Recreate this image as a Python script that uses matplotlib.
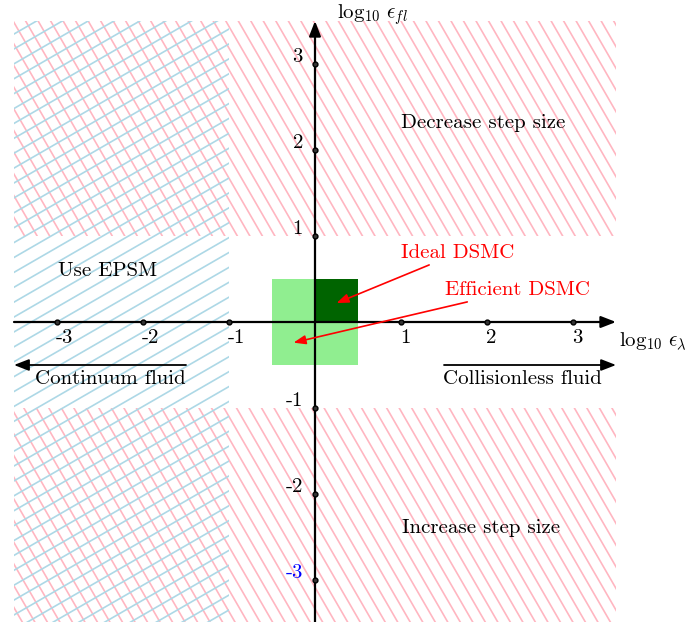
import numpy as np
import matplotlib
matplotlib.use("Agg")
import matplotlib.pyplot as plt
from matplotlib.patches import Rectangle

plt.rcParams['font.family'] = 'serif'
plt.rcParams['font.serif'] = ['cmr10']
plt.rcParams['mathtext.fontset'] = 'cm'
plt.rcParams['axes.unicode_minus'] = False

# data (log10 units)
x_ticks = [-3, -2, -1, 1, 2, 3]
y_ticks = [-3, -2, -1, 1, 2, 3]
lim = 3.5
# hatched regions: (x0, x1, y0, y1)
pink_regions = [(-3.5, 3.5, 1, 3.5), (-3.5, 3.5, -3.5, -1)]
blue_regions = [(-3.5, -1, -3.5, 3.5)]
efficient_box = (-0.5, 0.5, -0.5, 0.5)
ideal_box = (0, 0.5, 0, 0.5)

scale = 86  # px per unit
fig = plt.figure(figsize=(7, 6.22), dpi=100)
ax = fig.add_axes([0, 0, 1, 1])
ax.set_xlim(-315 / scale, 385 / scale)
ax.set_ylim(-300 / scale, 322 / scale)
ax.axis('off')


def hatch(x0, x1, y0, y1, angle, spacing, color):
    clip = Rectangle((x0, y0), x1 - x0, y1 - y0, fc='none', ec='none')
    ax.add_patch(clip)
    a = np.deg2rad(angle)
    d = np.array([np.cos(a), np.sin(a)])
    n = np.array([-np.sin(a), np.cos(a)])
    R = 12
    for k in np.arange(-R, R, spacing):
        p0 = n * k - d * R
        p1 = n * k + d * R
        ln, = ax.plot([p0[0], p1[0]], [p0[1], p1[1]], color=color, lw=1.2, zorder=1)
        ln.set_clip_path(clip)


for r in pink_regions:
    hatch(*r, angle=-60, spacing=0.126, color='#ffb6c1')
for r in blue_regions:
    hatch(*r, angle=30, spacing=0.15, color='#add8e6')

# green boxes
x0, x1, y0, y1 = efficient_box
ax.add_patch(Rectangle((x0, y0), x1 - x0, y1 - y0, fc='#90ee90', ec='none', zorder=2))
x0, x1, y0, y1 = ideal_box
ax.add_patch(Rectangle((x0, y0), x1 - x0, y1 - y0, fc='#006400', ec='none', zorder=2))

# axes with arrows
ax_kw = dict(arrowstyle='-|>,head_length=0.9,head_width=0.35', color='black', lw=1.6,
             shrinkA=0, shrinkB=0, mutation_scale=10)
ax.annotate('', xy=(lim, 0), xytext=(-lim, 0), arrowprops=ax_kw, zorder=4)
ax.annotate('', xy=(0, lim), xytext=(0, -lim), arrowprops=ax_kw, zorder=4)

ax.plot(x_ticks, [0] * len(x_ticks), 'o', ms=3.5, mfc='#333333', mec='black', zorder=5)
ax.plot([0] * len(y_ticks), y_ticks, 'o', ms=3.5, mfc='#333333', mec='black', zorder=5)

fs = 15
for t in x_ticks:
    ax.text(t - 0.01, -0.08, str(t), ha='left', va='top', fontsize=fs, zorder=6)
for t in y_ticks:
    ax.text(-0.14, t - 0.02, str(t), ha='right', va='bottom', fontsize=fs,
            color='blue' if t == -3 else 'black', zorder=6)

ax.text(3.54, -0.23, r'$\log_{10}\,\epsilon_\lambda$', ha='left', va='center', fontsize=fs)
ax.text(0.26, 3.57, r'$\log_{10}\,\epsilon_{fl}$', ha='left', va='center', fontsize=fs)

ax.text(1.96, 2.31, 'Decrease step size', ha='center', va='center', fontsize=fs)
ax.text(1.93, -2.4, 'Increase step size', ha='center', va='center', fontsize=fs)
ax.text(-2.41, 0.59, 'Use EPSM', ha='center', va='center', fontsize=fs)
ax.text(-2.38, -0.66, 'Continuum fluid', ha='center', va='center', fontsize=fs)
ax.text(2.41, -0.66, 'Collisionless fluid', ha='center', va='center', fontsize=fs)

arr_kw = dict(arrowstyle='-|>,head_length=0.9,head_width=0.35', color='black', lw=1.3,
              shrinkA=0, shrinkB=0, mutation_scale=10)
ax.annotate('', xy=(-3.5, -0.5), xytext=(-1.5, -0.5), arrowprops=arr_kw)
ax.annotate('', xy=(3.5, -0.5), xytext=(1.5, -0.5), arrowprops=arr_kw)

red_kw = dict(arrowstyle='-|>,head_length=0.8,head_width=0.3', color='red', lw=1.2,
              shrinkA=0, shrinkB=0, mutation_scale=9)
ax.annotate('Ideal DSMC', xy=(0.25, 0.22), xytext=(1.0, 0.8), color='red', fontsize=fs,
            ha='left', va='center', arrowprops=red_kw, zorder=6)
ax.annotate('Efficient DSMC', xy=(-0.25, -0.24), xytext=(1.51, 0.37), color='red', fontsize=fs,
            ha='left', va='center', arrowprops=red_kw, zorder=6)

fig.savefig('out.png', dpi=100)
